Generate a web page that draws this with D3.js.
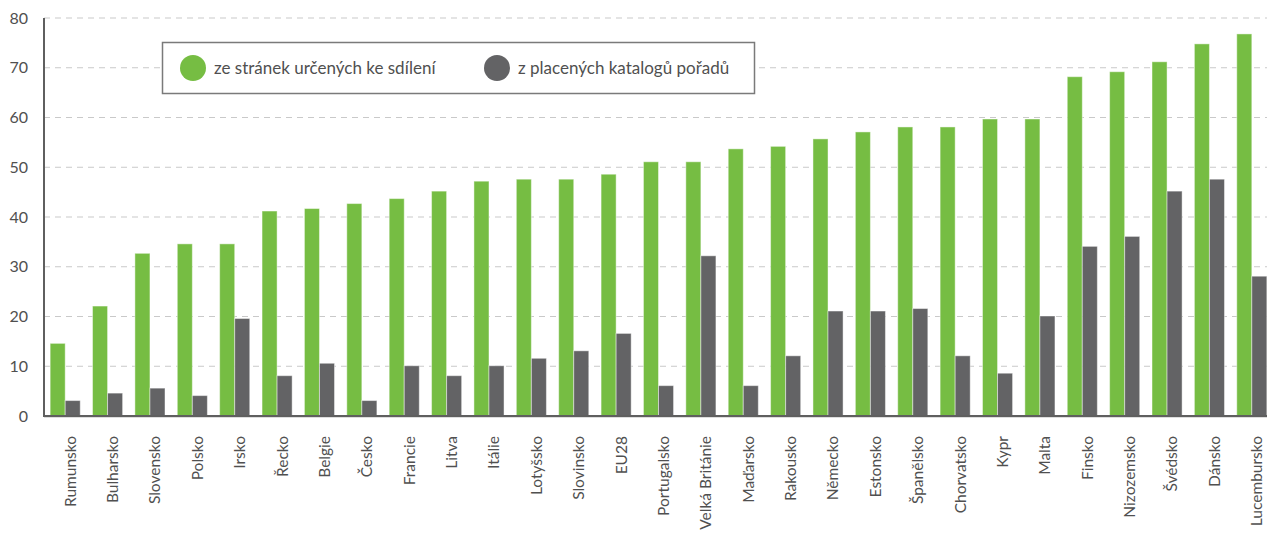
<!DOCTYPE html>
<html><head><meta charset="utf-8">
<script src="https://cdn.jsdelivr.net/npm/d3@7"></script>
<style>
body{margin:0;background:#fff;}
svg{display:block;font-family:Lato, "Open Sans", sans-serif;}
</style></head>
<body><svg id="c" width="1267" height="535"></svg>
<script>
const categories = ["Rumunsko","Bulharsko","Slovensko","Polsko","Irsko","Řecko","Belgie","Česko","Francie","Litva","Itálie","Lotyšsko","Slovinsko","EU28","Portugalsko","Velká Británie","Maďarsko","Rakousko","Německo","Estonsko","Španělsko","Chorvatsko","Kypr","Malta","Finsko","Nizozemsko","Švédsko","Dánsko","Lucembursko"];
const sharing = [14.6,22.1,32.7,34.6,34.6,41.2,41.7,42.7,43.7,45.2,47.2,47.6,47.6,48.6,51.1,51.1,53.7,54.2,55.7,57.1,58.1,58.1,59.7,59.7,68.2,69.2,71.2,74.8,76.8];
const paid = [3.1,4.6,5.6,4.1,19.6,8.1,10.6,3.1,10.1,8.1,10.1,11.6,13.1,16.6,6.1,32.2,6.1,12.1,21.1,21.1,21.6,12.1,8.6,20.1,34.1,36.1,45.2,47.6,28.1];
const seriesNames = ["ze stránek určených ke sdílení","z placených katalogů pořadů"];
const yTicks = [0,10,20,30,40,50,60,70,80];
const colors = ["#76bd43","#636365"];

(function(){
const svg = d3.select("#c");
const mLeft = 44, mTop = 18, mBottom = 416, mRight = 1273;
const x = d3.scaleBand().domain(categories).range([mLeft, mRight]).paddingInner(0.29).paddingOuter(0.145);
const xs = d3.scaleBand().domain([0,1]).range([0, x.bandwidth()]);
const y = d3.scaleLinear().domain([0,80]).range([mBottom, mTop]);

// grid
svg.append("g").selectAll("line").data(yTicks.filter(d=>d>0)).join("line")
  .attr("x1", mLeft).attr("x2", 1267).attr("y1", d=>y(d)).attr("y2", d=>y(d))
  .attr("stroke", "#c9c9c9").attr("stroke-width", 1.2).attr("stroke-dasharray", "6,5");

// bars
const g = svg.append("g").selectAll("g").data(categories).join("g")
  .attr("transform", d=>`translate(${x(d)},0)`);
g.append("rect").attr("x", xs(0)).attr("width", xs.bandwidth())
  .attr("y", (d,i)=>y(sharing[i])).attr("height", (d,i)=>y(0)-y(sharing[i]))
  .attr("fill", colors[0]).attr("stroke", "rgba(255,255,255,0.45)").attr("stroke-width", 1);
g.append("rect").attr("x", xs(1)).attr("width", xs.bandwidth())
  .attr("y", (d,i)=>y(paid[i])).attr("height", (d,i)=>y(0)-y(paid[i]))
  .attr("fill", colors[1]).attr("stroke", "rgba(255,255,255,0.45)").attr("stroke-width", 1);

// axes
const yAxis = d3.axisLeft(y).tickValues(yTicks).tickSize(0).tickPadding(16);
const ya = svg.append("g").attr("transform", `translate(${mLeft},0)`).call(yAxis);
ya.select(".domain").remove();
ya.selectAll("text").attr("font-size", 16).attr("fill", "#505050").attr("font-family", "Lato, sans-serif");
svg.append("line").attr("x1", mLeft).attr("x2", mLeft).attr("y1", mTop).attr("y2", mBottom+1)
  .attr("stroke", "#5f5f5f").attr("stroke-width", 2);

const xAxis = d3.axisBottom(x).tickSize(0).tickPadding(0);
const xa = svg.append("g").attr("transform", `translate(0,${mBottom})`).call(xAxis);
xa.select(".domain").remove();
xa.selectAll("text").attr("font-size", 15.5).attr("fill", "#505050").attr("font-family", "Lato, sans-serif")
  .attr("text-anchor", "end").attr("transform", "rotate(-90)")
  .attr("x", -20).attr("y", 5).attr("dy", "0.35em");
svg.append("line").attr("x1", mLeft).attr("x2", 1267).attr("y1", mBottom).attr("y2", mBottom)
  .attr("stroke", "#5f5f5f").attr("stroke-width", 2);
svg.append("line").attr("x1", mLeft).attr("x2", 1267).attr("y1", mBottom+1.5).attr("y2", mBottom+1.5)
  .attr("stroke", "#dddddd").attr("stroke-width", 1);

// legend
const lg = svg.append("g");
lg.append("rect").attr("x", 162.5).attr("y", 42.5).attr("width", 592).attr("height", 51)
  .attr("fill", "#fff").attr("stroke", "#7a7a7a").attr("stroke-width", 1.5);
const lx = [193, 497];
seriesNames.forEach((n,i)=>{
  lg.append("circle").attr("cx", lx[i]).attr("cy", 68).attr("r", 13).attr("fill", colors[i]);
  lg.append("text").attr("x", lx[i]+21).attr("y", 68).attr("dy", "0.35em")
    .attr("font-size", 17).attr("fill", "#505050").text(n);
});
})();
</script></body></html>
